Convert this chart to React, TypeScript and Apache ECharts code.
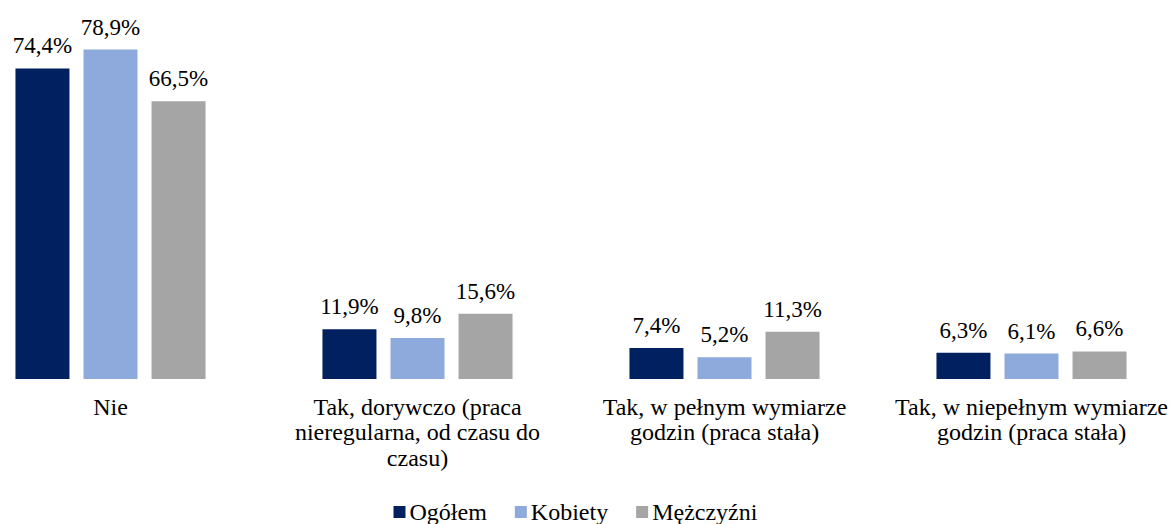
import React, { useEffect, useRef } from "react";
import * as echarts from "echarts";

const categories = [
  "Nie",
  "Tak, dorywczo (praca\nnieregularna, od czasu do\nczasu)",
  "Tak, w pełnym wymiarze\ngodzin (praca stała)",
  "Tak, w niepełnym wymiarze\ngodzin (praca stała)",
];
const seriesNames = ["Ogółem", "Kobiety", "Mężczyźni"];
const ogolem = [74.4, 11.9, 7.4, 6.3];
const kobiety = [78.9, 9.8, 5.2, 6.1];
const mezczyzni = [66.5, 15.6, 11.3, 6.6];
const colors = ["#002060", "#8EA9DB", "#A5A5A5"];

const FONT = "Liberation Serif";

export default function App() {
  const ref = useRef<HTMLDivElement>(null);
  useEffect(() => {
    if (!ref.current) return;
    const chart = echarts.init(ref.current, null, { renderer: "svg" });
    const values = [ogolem, kobiety, mezczyzni];
    chart.setOption({
      animation: false,
      backgroundColor: "#ffffff",
      textStyle: { fontFamily: FONT },
      grid: { left: 0, right: 0, top: 45, bottom: 145, containLabel: false },
      legend: {
        data: seriesNames,
        top: 500,
        left: 436.5,
        padding: 0,
        icon: "rect",
        itemWidth: 12,
        itemHeight: 12,
        itemGap: 28,
        textStyle: { fontFamily: FONT, fontSize: 24, color: "#000", padding: [0, 0, 0, -1] },
      },
      xAxis: {
        type: "category",
        data: categories,
        axisLine: { show: false },
        axisTick: { show: false },
        axisLabel: {
          interval: 0,
          margin: 15,
          fontFamily: FONT,
          fontSize: 24,
          lineHeight: 25.5,
          color: "#000",
        },
      },
      yAxis: {
        type: "value",
        min: 0,
        max: 80,
        show: false,
        splitLine: { show: false },
      },
      series: seriesNames.map((name, i) => ({
        name,
        type: "bar",
        data: values[i],
        barWidth: 54,
        barGap: "26%",
        itemStyle: { color: colors[i] },
        label: {
          show: true,
          position: "top",
          distance: 11,
          fontFamily: FONT,
          fontSize: 23,
          color: "#000",
          formatter: (p: any) => p.value.toFixed(1).replace(".", ",") + "%",
        },
      })),
    });
    return () => chart.dispose();
  }, []);
  return (
    <div
      style={{
        position: "fixed",
        left: 0,
        top: 0,
        width: 1172,
        height: 524,
        overflow: "hidden",
        background: "#fff",
      }}
    >
      <div
        ref={ref}
        style={{ position: "absolute", left: -43.5, top: 0, width: 1228, height: 524 }}
      />
    </div>
  );
}
